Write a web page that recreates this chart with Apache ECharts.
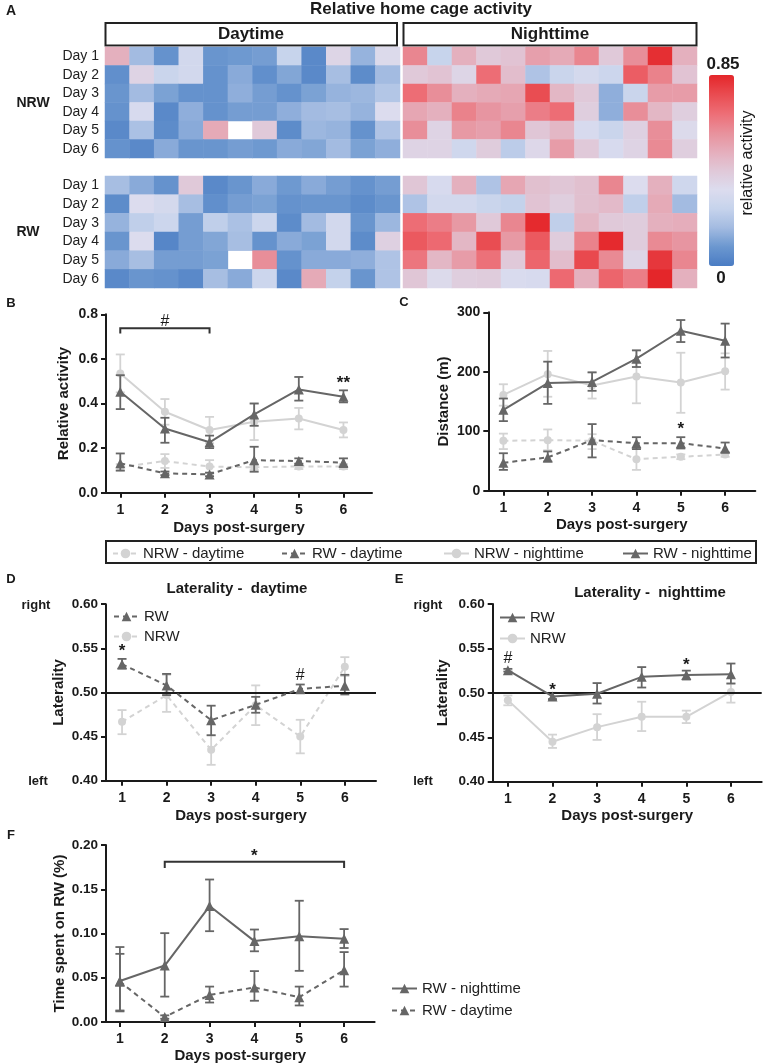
<!DOCTYPE html>
<html><head><meta charset="utf-8">
<script src="https://cdn.jsdelivr.net/npm/echarts@6/dist/echarts.min.js"></script>
<style>html,body{margin:0;padding:0;background:#fff}#c{width:763px;height:1064px}</style>
</head><body><div id="c"></div>
<script>
const FONT = "'Liberation Sans', Arial, Helvetica, sans-serif";
const INK = '#1a1a1a';
const C_LIGHT = '#d3d3d3';
const C_DARK = '#666666';

// ---------- Panel A: heatmap data (rows Day1..Day6, 12 columns) ----------
const dayLabels = ['Day 1','Day 2','Day 3','Day 4','Day 5','Day 6'];
const heatCols = ['1','2','3','4','5','6','7','8','9','10','11','12'];
const nrwDay = [
 [0.50,0.17,0.07,0.30,0.08,0.09,0.10,0.26,0.04,0.37,0.15,0.35],
 [0.06,0.38,0.27,0.30,0.07,0.13,0.06,0.12,0.04,0.18,0.05,0.17],
 [0.08,0.17,0.11,0.07,0.07,0.14,0.10,0.07,0.11,0.15,0.16,0.21],
 [0.07,0.32,0.04,0.14,0.07,0.10,0.10,0.14,0.17,0.18,0.15,0.34],
 [0.04,0.19,0.05,0.13,0.52,null,0.42,0.05,0.16,0.15,0.07,0.20],
 [0.07,0.04,0.13,0.08,0.08,0.10,0.09,0.13,0.12,0.17,0.11,0.14]];
const nrwNight = [
 [0.62,0.26,0.50,0.42,0.44,0.55,0.52,0.62,0.42,0.60,0.83,0.50],
 [0.42,0.44,0.37,0.68,0.46,0.20,0.27,0.31,0.28,0.72,0.63,0.44],
 [0.68,0.60,0.50,0.52,0.53,0.76,0.48,0.42,0.14,0.27,0.56,0.56],
 [0.53,0.50,0.63,0.58,0.55,0.64,0.68,0.40,0.14,0.60,0.48,0.40],
 [0.60,0.38,0.57,0.55,0.62,0.43,0.48,0.32,0.27,0.39,0.60,0.35],
 [0.38,0.38,0.29,0.41,0.23,0.36,0.56,0.42,0.32,0.38,0.61,0.40]];
const rwDay = [
 [0.18,0.13,0.07,0.42,0.04,0.08,0.13,0.09,0.13,0.10,0.07,0.10],
 [0.05,0.34,0.31,0.18,0.06,0.10,0.11,0.07,0.08,0.08,0.05,0.08],
 [0.15,0.24,0.28,0.10,0.24,0.19,0.28,0.05,0.17,0.30,0.08,0.16],
 [0.08,0.34,0.03,0.10,0.12,0.18,0.07,0.13,0.11,0.30,0.05,0.39],
 [0.13,0.18,0.10,0.10,0.11,null,0.60,0.07,0.13,0.13,0.14,0.20],
 [0.04,0.08,0.07,0.04,0.18,0.13,0.28,0.04,0.52,0.25,0.08,0.20]];
const rwNight = [
 [0.43,0.32,0.50,0.20,0.53,0.45,0.43,0.45,0.62,0.34,0.50,0.29],
 [0.20,0.30,0.30,0.27,0.25,0.44,0.40,0.45,0.47,0.24,0.52,0.17],
 [0.68,0.64,0.57,0.42,0.62,0.84,0.24,0.48,0.42,0.41,0.50,0.51],
 [0.73,0.69,0.48,0.76,0.57,0.73,0.41,0.63,0.84,0.41,0.61,0.58],
 [0.66,0.48,0.56,0.67,0.42,0.70,0.46,0.77,0.61,0.37,0.81,0.62],
 [0.43,0.35,0.40,0.41,0.33,0.32,0.69,0.50,0.70,0.64,0.85,0.50]];
const heatMin = 0, heatMax = 0.85;

// ---------- shared x ----------
const days = [1,2,3,4,5,6];

// ---------- Panel B: relative activity ----------
const bNrwDay = [0.114,0.142,0.117,0.114,0.118,0.117];
const bNrwDayLo = [0.100,0.111,0.088,0.102,0.106,0.106];
const bNrwDayHi = [0.128,0.173,0.146,0.126,0.130,0.128];
const bRwDay = [0.132,0.087,0.082,0.146,0.142,0.135];
const bRwDayLo = [0.099,0.079,0.074,0.094,0.130,0.115];
const bRwDayHi = [0.176,0.095,0.090,0.206,0.154,0.154];
const bNrwNight = [0.535,0.363,0.281,0.318,0.333,0.281];
const bNrwNightLo = [0.450,0.305,0.222,0.236,0.284,0.248];
const bNrwNightHi = [0.620,0.420,0.340,0.400,0.380,0.315];
const bRwNight = [0.453,0.288,0.226,0.351,0.463,0.430];
const bRwNightLo = [0.375,0.224,0.200,0.300,0.413,0.405];
const bRwNightHi = [0.527,0.336,0.256,0.400,0.519,0.459];
const bBrackets = [[1,3,0.737,0.714]];
const bNotes = [[2,0.768,'#'],[6,0.49,'**']];

// ---------- Panel C: distance ----------
const cNrwDay = [84,85,84,53,57,61];
const cNrwDayLo = [70,68,70,35,53,57];
const cNrwDayHi = [96,103,95,71,61,65];
const cRwDay = [47,56,85,80,80,71];
const cRwDayLo = [35,49,56,70,71,64];
const cRwDayHi = [63,66,112,90,90,81];
const cNrwNight = [161,196,177,192,182,201];
const cNrwNightLo = [143,158,155,147,131,170];
const cNrwNightHi = [179,235,199,236,232,231];
const cRwNight = [136,181,183,222,269,252];
const cRwNightLo = [117,146,168,208,250,224];
const cRwNightHi = [155,217,199,236,287,281];
const cNotes = [[5,103,'*']];

// ---------- Panel D: laterality daytime ----------
const dRw = [0.532,0.508,0.4686,0.486,0.504,0.5076];
const dRwLo = [0.527,0.497,0.4515,0.477,0.499,0.4977];
const dRwHi = [0.538,0.521,0.485,0.495,0.509,0.520];
const dNrw = [0.4667,0.497,0.435,0.4856,0.450,0.529];
const dNrwLo = [0.4527,0.478,0.418,0.463,0.431,0.5186];
const dNrwHi = [0.480,0.520,0.4515,0.508,0.469,0.540];
const dNotes = [[1,0.5465,'*'],[5,0.519,'#']];

// ---------- Panel E: laterality nighttime ----------
const eRw = [0.5255,0.496,0.499,0.518,0.520,0.521];
const eRwLo = [0.524,0.493,0.488,0.506,0.515,0.5105];
const eRwHi = [0.527,0.500,0.511,0.529,0.525,0.533];
const eNrw = [0.4918,0.445,0.4614,0.473,0.473,0.501];
const eNrwLo = [0.486,0.438,0.447,0.457,0.466,0.489];
const eNrwHi = [0.497,0.453,0.476,0.490,0.480,0.5105];
const eNotes = [[1,0.538,'#'],[2,0.503,'*'],[5,0.5315,'*']];

// ---------- Panel F: time on running wheel ----------
const fRwNight = [0.0463,0.0638,0.131,0.0914,0.097,0.094];
const fRwNightLo = [0.013,0.0287,0.1026,0.0799,0.0578,0.0836];
const fRwNightHi = [0.0847,0.1004,0.161,0.1045,0.137,0.105];
const fRwDay = [0.0455,0.0056,0.0306,0.039,0.028,0.0586];
const fRwDayLo = [0.012,0.0037,0.022,0.024,0.0187,0.040];
const fRwDayHi = [0.077,0.0075,0.040,0.0575,0.040,0.079];
const fBrackets = [[2,6,0.181,0.174]];
const fNotes = [[4,0.187,'*']];

// ================= builders =================
function heat(g, arr) {
  const data = [];
  arr.forEach((row, r) => row.forEach((v, c) => data.push([c, r, v === null ? '-' : v])));
  return {type:'heatmap', xAxisIndex:g, yAxisIndex:g, data, emphasis:{disabled:true}, itemStyle:{borderWidth:0}, silent:true};
}
function ln(name, g, y, color, dashed, sym, z) {
  return {type:'line', name, xAxisIndex:g, yAxisIndex:g, data: days.map((d,i)=>[d,y[i]]),
    symbol: sym, symbolSize: sym === 'triangle' ? 10 : 8, showSymbol:true,
    lineStyle:{color, width:2, type: dashed ? [5,4] : 'solid'},
    itemStyle:{color, borderWidth:0}, emphasis:{disabled:true}, z, animation:false};
}
function eb(g, lo, hi, color, z) {
  return {type:'custom', xAxisIndex:g, yAxisIndex:g, silent:true, z, animation:false,
    data: days.map((d,i)=>[d, lo[i], hi[i]]),
    renderItem(params, api) {
      const a = api.coord([api.value(0), api.value(1)]);
      const b = api.coord([api.value(0), api.value(2)]);
      const w = 4.5, st = {stroke:color, lineWidth:1.8};
      return {type:'group', children:[
        {type:'line', shape:{x1:a[0], y1:a[1], x2:b[0], y2:b[1]}, style:st},
        {type:'line', shape:{x1:a[0]-w, y1:a[1], x2:a[0]+w, y2:a[1]}, style:st},
        {type:'line', shape:{x1:b[0]-w, y1:b[1], x2:b[0]+w, y2:b[1]}, style:st}]};
    }};
}
function notes(g, arr) {
  return {type:'custom', xAxisIndex:g, yAxisIndex:g, silent:true, z:10, animation:false,
    data: arr.map(a => [a[0], a[1]]),
    renderItem(params, api) {
      const p = api.coord([api.value(0), api.value(1)]);
      const t = arr[params.dataIndex][2];
      const isHash = t === '#';
      return {type:'text', x:p[0], y:p[1], style:{text:t, fill:INK, fontSize: isHash ? 16 : 17,
        fontWeight: isHash ? 'normal' : 'bold', fontFamily:FONT, align:'center', verticalAlign:'middle'}};
    }};
}
function brackets(g, arr) {
  return {type:'custom', xAxisIndex:g, yAxisIndex:g, silent:true, z:10, animation:false,
    data: arr,
    renderItem(params, api) {
      const a = api.coord([api.value(0), api.value(3)]);
      const b = api.coord([api.value(0), api.value(2)]);
      const c = api.coord([api.value(1), api.value(2)]);
      const d = api.coord([api.value(1), api.value(3)]);
      return {type:'polyline', shape:{points:[a,b,c,d]}, style:{stroke:'#333', lineWidth:2, fill:null}};
    }};
}
function xAxisVal(g, min, max, nameGap) {
  return {type:'value', gridIndex:g, min, max,
    axisLine:{show:true, onZero:false, lineStyle:{color:INK, width:2}},
    axisTick:{show:true, customValues:days, length:5, lineStyle:{color:INK, width:2}},
    axisLabel:{customValues:days, fontSize:14, fontWeight:'bold', color:INK, fontFamily:FONT, margin:10},
    splitLine:{show:false},
    name:'Days post-surgery', nameLocation:'middle', nameGap, nameMoveOverlap:false,
    nameTextStyle:{fontSize:15, fontWeight:'bold', color:INK, fontFamily:FONT}};
}
function yAxisVal(g, min, max, interval, name, nameGap, dec, fs) {
  return {type:'value', gridIndex:g, min, max, interval,
    axisLine:{show:true, onZero:false, lineStyle:{color:INK, width:2}},
    axisTick:{show:true, length:5, lineStyle:{color:INK, width:2}},
    axisLabel:{fontSize:fs, fontWeight:'bold', color:INK, fontFamily:FONT, margin:8,
      formatter: v => dec === null ? String(Math.round(v)) : v.toFixed(dec)},
    splitLine:{show:false},
    name, nameLocation:'middle', nameGap, nameRotate:90, nameMoveOverlap:false,
    nameTextStyle:{fontSize:15, fontWeight:'bold', color:INK, fontFamily:FONT}};
}
function heatX(g) {
  return {type:'category', gridIndex:g, data:heatCols, show:false};
}
function heatY(g, labels) {
  return {type:'category', gridIndex:g, data:dayLabels, inverse:true,
    axisLine:{show:false}, axisTick:{show:false}, splitLine:{show:false},
    axisLabel:{show:labels, fontSize:14, color:'#222', fontFamily:FONT, margin:6}};
}
function lg(data, left, top, opts) {
  return Object.assign({show:true, data, left, top, padding:0, selectedMode:false,
    itemWidth:25, itemHeight:12, orient:'horizontal',
    textStyle:{fontSize:15, color:'#222', fontFamily:FONT}}, opts || {});
}
const txt = (x, y, text, size, weight, extra) => Object.assign({type:'text', x, y, silent:true,
  style:{text, fill:INK, fontSize:size, fontWeight:weight || 'bold', fontFamily:FONT, align:'center', verticalAlign:'middle'}}, extra || {});
const box = (x, y, w, h) => ({type:'rect', silent:true, shape:{x, y, width:w, height:h},
  style:{fill:null, stroke:'#222', lineWidth:2}});

const grids = [
  {left:105, top:47, width:295, height:111},
  {left:403, top:47, width:294, height:111},
  {left:105, top:176, width:295, height:112},
  {left:403, top:176, width:294, height:112},
  {left:106, top:314.3, width:266, height:178.4},
  {left:488.3, top:312.3, width:267, height:178.4},
  {left:106, top:604.2, width:270, height:176.5},
  {left:492.7, top:604, width:269, height:177.7},
  {left:106, top:845, width:268.6, height:177}
].map(g => Object.assign({outerBoundsMode:'none', containLabel:false}, g));

const option = {
  animation:false,
  backgroundColor:'#fff',
  textStyle:{fontFamily:FONT},
  grid: grids,
  xAxis: [heatX(0), heatX(1), heatX(2), heatX(3),
    xAxisVal(4, 0.68, 6.64, 28), xAxisVal(5, 0.66, 6.68, 27),
    xAxisVal(6, 0.64, 6.70, 28), xAxisVal(7, 0.66, 6.69, 27), xAxisVal(8, 0.69, 6.68, 26)],
  yAxis: [heatY(0,true), heatY(1,false), heatY(2,true), heatY(3,false),
    yAxisVal(4, 0, 0.8, 0.2, 'Relative activity', 35, 1, 14),
    yAxisVal(5, 0, 300, 100, 'Distance (m)', 37, null, 14),
    yAxisVal(6, 0.4, 0.6, 0.05, 'Laterality', 40, 2, 13.5),
    yAxisVal(7, 0.4, 0.6, 0.05, 'Laterality', 42, 2, 13.5),
    yAxisVal(8, 0, 0.2, 0.05, 'Time spent on RW (%)', 39, 2, 13.5)],
  visualMap: {type:'continuous', min:heatMin, max:heatMax, seriesIndex:[0,1,2,3],
    left:709, top:75, itemWidth:25, itemHeight:191, padding:0, calculable:false, hoverLink:false,
    text:null, showLabel:false,
    inRange:{color:['#4a7cc4','#6b97cf','#a3bbe1','#c6d3ec','#dcdcee','#e0c8d8','#e5adbb','#e8909b','#ed6d75','#e94b50','#e4262a']}},
  legend: [
    lg(['NRW - daytime'], 112, 546),
    lg(['RW - daytime'], 281, 546),
    lg(['NRW - nighttime'], 443, 546),
    lg(['RW - nighttime'], 622, 546),
    lg(['D-RW','D-NRW'], 113, 609, {orient:'vertical', itemGap:5, formatter:n=>n.slice(2)}),
    lg(['E-RW','E-NRW'], 499, 610, {orient:'vertical', itemGap:6, formatter:n=>n.slice(2)}),
    lg(['F-RW - nighttime','F-RW - daytime'], 391, 981, {orient:'vertical', itemGap:7, formatter:n=>n.slice(2)})
  ],
  series: [
    heat(0, nrwDay), heat(1, nrwNight), heat(2, rwDay), heat(3, rwNight),
    // B
    eb(4, bNrwDayLo, bNrwDayHi, C_LIGHT, 2), ln('NRW - daytime', 4, bNrwDay, C_LIGHT, true, 'circle', 3),
    eb(4, bNrwNightLo, bNrwNightHi, C_LIGHT, 2), ln('NRW - nighttime', 4, bNrwNight, C_LIGHT, false, 'circle', 3),
    eb(4, bRwDayLo, bRwDayHi, C_DARK, 4), ln('RW - daytime', 4, bRwDay, C_DARK, true, 'triangle', 5),
    eb(4, bRwNightLo, bRwNightHi, C_DARK, 4), ln('RW - nighttime', 4, bRwNight, C_DARK, false, 'triangle', 5),
    brackets(4, bBrackets), notes(4, bNotes),
    // C
    eb(5, cNrwDayLo, cNrwDayHi, C_LIGHT, 2), ln('NRW - daytime', 5, cNrwDay, C_LIGHT, true, 'circle', 3),
    eb(5, cNrwNightLo, cNrwNightHi, C_LIGHT, 2), ln('NRW - nighttime', 5, cNrwNight, C_LIGHT, false, 'circle', 3),
    eb(5, cRwDayLo, cRwDayHi, C_DARK, 4), ln('RW - daytime', 5, cRwDay, C_DARK, true, 'triangle', 5),
    eb(5, cRwNightLo, cRwNightHi, C_DARK, 4), ln('RW - nighttime', 5, cRwNight, C_DARK, false, 'triangle', 5),
    notes(5, cNotes),
    // D
    eb(6, dNrwLo, dNrwHi, C_LIGHT, 2),
    Object.assign(ln('D-NRW', 6, dNrw, C_LIGHT, true, 'circle', 3), {markLine:{silent:true, symbol:'none', label:{show:false},
      lineStyle:{color:INK, width:2, type:'solid'}, data:[{yAxis:0.5}], animation:false}}),
    eb(6, dRwLo, dRwHi, C_DARK, 4), ln('D-RW', 6, dRw, C_DARK, true, 'triangle', 5),
    notes(6, dNotes),
    // E
    eb(7, eNrwLo, eNrwHi, C_LIGHT, 2),
    Object.assign(ln('E-NRW', 7, eNrw, C_LIGHT, false, 'circle', 3), {markLine:{silent:true, symbol:'none', label:{show:false},
      lineStyle:{color:INK, width:2, type:'solid'}, data:[{yAxis:0.5}], animation:false}}),
    eb(7, eRwLo, eRwHi, C_DARK, 4), ln('E-RW', 7, eRw, C_DARK, false, 'triangle', 5),
    notes(7, eNotes),
    // F
    eb(8, fRwDayLo, fRwDayHi, C_DARK, 4), ln('F-RW - daytime', 8, fRwDay, C_DARK, true, 'triangle', 5),
    eb(8, fRwNightLo, fRwNightHi, C_DARK, 4), ln('F-RW - nighttime', 8, fRwNight, C_DARK, false, 'triangle', 5),
    brackets(8, fBrackets), notes(8, fNotes)
  ],
  graphic: {elements: [
    txt(11, 11, 'A', 14),
    txt(421, 9, 'Relative home cage activity', 17),
    box(105.5, 23, 291.5, 22.5), txt(251, 34.5, 'Daytime', 17),
    box(403.5, 23, 293, 22.5), txt(550, 34.5, 'Nighttime', 17),
    txt(33, 103, 'NRW', 14), txt(28, 232, 'RW', 14),
    txt(723, 64, '0.85', 17), txt(721, 278, '0', 17),
    txt(748, 163, 'relative activity', 16, 'normal', {rotation:Math.PI/2}),
    txt(11, 303, 'B', 13), txt(404, 302, 'C', 13),
    txt(11, 579, 'D', 13), txt(399, 579, 'E', 13), txt(11, 835, 'F', 13),
    box(106, 541, 650, 22),
    txt(237, 589, 'Laterality -  daytime', 15),
    txt(650, 593, 'Laterality -  nighttime', 15),
    txt(36, 605, 'right', 13), txt(38, 781, 'left', 13),
    txt(428, 605, 'right', 13), txt(423, 781, 'left', 13)
  ]}
};
const chart = echarts.init(document.getElementById('c'), null, {renderer:'canvas'});
chart.setOption(option);
</script>
</body></html>
